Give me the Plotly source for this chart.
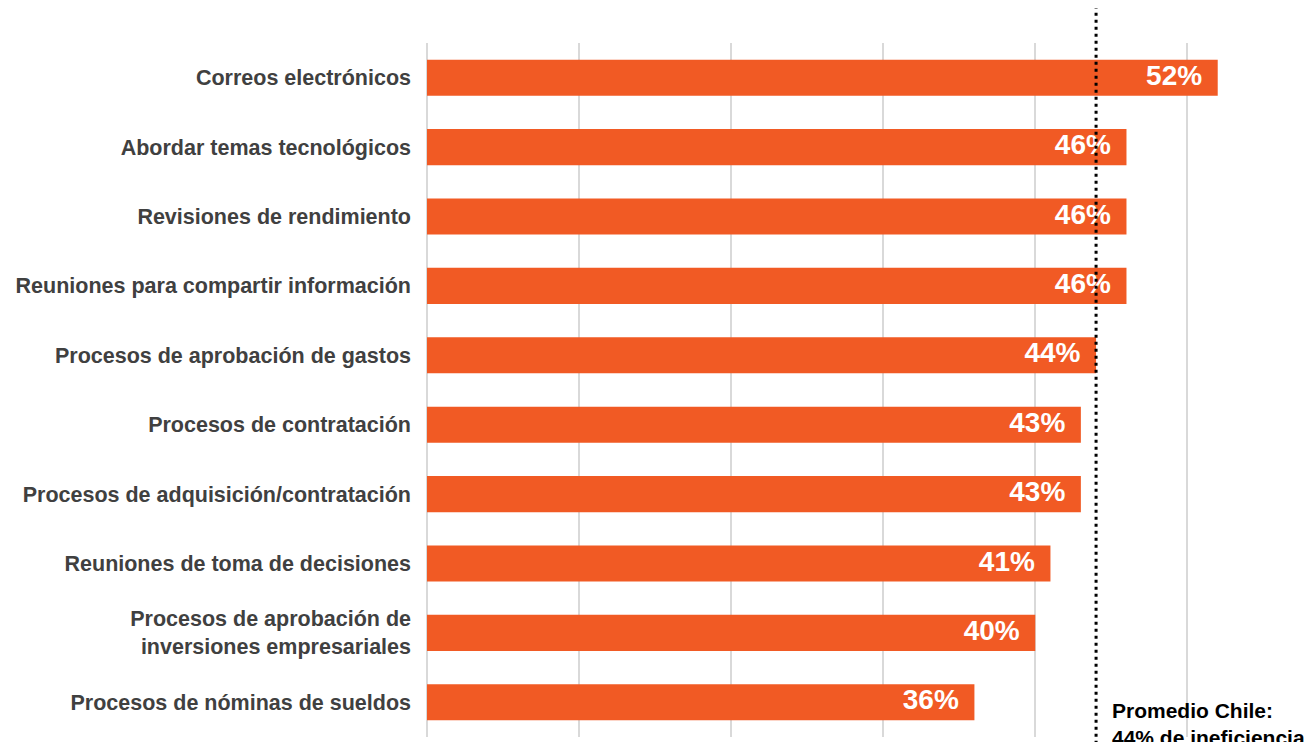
import plotly.graph_objects as go

categories = [
    "Correos electrónicos",
    "Abordar temas tecnológicos",
    "Revisiones de rendimiento",
    "Reuniones para compartir información",
    "Procesos de aprobación de gastos",
    "Procesos de contratación",
    "Procesos de adquisición/contratación",
    "Reuniones de toma de decisiones",
    "Procesos de aprobación de<br>inversiones empresariales",
    "Procesos de nóminas de sueldos",
]
values = [52, 46, 46, 46, 44, 43, 43, 41, 40, 36]
average_value = 44
average_text = "Promedio Chile:<br>44% de ineficiencia"

BAR_COLOR = "#F15A24"
FONT = "Liberation Sans, Arial, sans-serif"

fig = go.Figure()
fig.add_trace(go.Bar(
    y=categories, x=values, orientation="h",
    marker=dict(color=BAR_COLOR, line=dict(width=0)),
    hoverinfo="skip",
))
fig.add_trace(go.Scatter(
    y=categories, x=values, mode="text",
    text=[f"{v}%\u00a0\u00a0" for v in values],
    textposition="middle left",
    textfont=dict(family=FONT, size=28, color="white", weight="bold"),
    hoverinfo="skip",
))

fig.add_shape(
    type="line", xref="x", yref="paper",
    x0=average_value, x1=average_value, y0=-0.05, y1=1.05,
    line=dict(color="black", width=3, dash="3px,4px"),
    layer="above",
)
fig.add_annotation(
    x=average_value, xref="x", xanchor="left", xshift=14,
    y=0.058, yref="paper", yanchor="top",
    text=average_text, showarrow=False, align="left",
    font=dict(family=FONT, size=21, color="black", weight="bold"),
)

fig.update_layout(
    width=1312, height=742,
    margin=dict(l=427, r=0, t=43, b=5),
    paper_bgcolor="white", plot_bgcolor="white",
    showlegend=False,
    bargap=0.48,
    font=dict(family=FONT),
    xaxis=dict(
        range=[0, 58.2], tick0=0, dtick=10,
        showgrid=True, gridcolor="#d9d9d9", gridwidth=1.5,
        zeroline=True, zerolinecolor="#d9d9d9", zerolinewidth=1.5,
        showticklabels=False, showline=False,
        fixedrange=True,
    ),
    yaxis=dict(
        autorange="reversed", showgrid=False, zeroline=False, showline=False,
        ticks="", ticklabelstandoff=15,
        tickfont=dict(family=FONT, size=21.5, color="#404040", weight="bold"),
        fixedrange=True,
    ),
)

fig.write_html("out.html")
